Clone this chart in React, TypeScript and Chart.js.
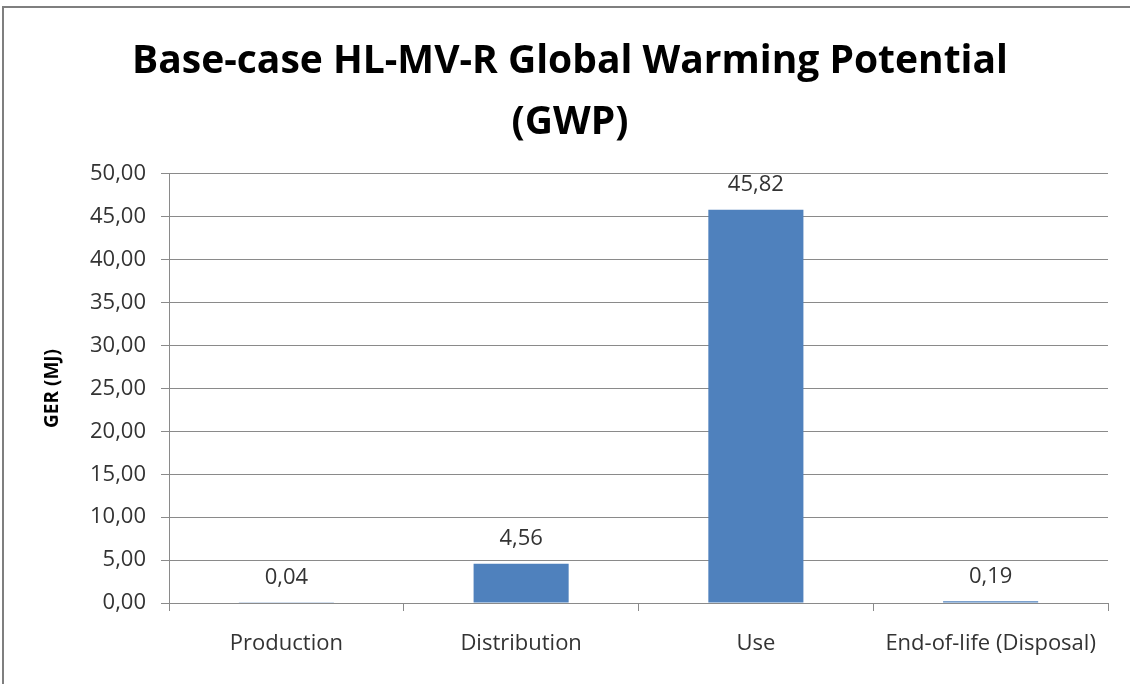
import React, { useEffect, useRef } from "react";
import { Chart, registerables } from "chart.js";

Chart.register(...registerables);

const categories = ["Production", "Distribution", "Use", "End-of-life (Disposal)"];
const values = [0.04, 4.56, 45.82, 0.19];
const titleLines = ["Base-case HL-MV-R Global Warming Potential", "(GWP)"];
const yAxisTitle = "GER (MJ)";

const FONT = "'Open Sans', sans-serif";
const fmt = (v: number) => v.toFixed(2).replace(".", ",");

const valueLabels = {
  id: "valueLabels",
  afterDatasetsDraw(chart: any) {
    const ctx = chart.ctx;
    const meta = chart.getDatasetMeta(0);
    ctx.save();
    ctx.font = `22px ${FONT}`;
    ctx.fillStyle = "#333333";
    ctx.textAlign = "center";
    ctx.textBaseline = "middle";
    meta.data.forEach((el: any, i: number) => {
      ctx.fillText(fmt(values[i]), el.x, el.y - 25);
    });
    ctx.restore();
  },
};

export default function App() {
  const ref = useRef<HTMLCanvasElement>(null);
  useEffect(() => {
    if (!ref.current) return;
    const chart = new Chart(ref.current, {
      type: "bar",
      data: {
        labels: categories,
        datasets: [
          {
            data: values,
            backgroundColor: "#4F81BD",
            borderWidth: 0,
            barPercentage: 0.405,
            categoryPercentage: 1,
          },
        ],
      },
      options: {
        animation: false,
        responsive: true,
        maintainAspectRatio: false,
        layout: { padding: { left: 16, right: 6, top: 0, bottom: 0 } },
        plugins: {
          legend: { display: false },
          tooltip: { enabled: false },
          title: {
            display: true,
            text: titleLines,
            color: "#000000",
            font: { family: FONT, size: 39, weight: "bold", lineHeight: 1.55 },
            padding: { top: 32, bottom: 21 },
          },
        },
        scales: {
          x: {
            afterFit: (s: any) => {
              s.height = 81;
            },
            grid: {
              display: true,
              drawOnChartArea: false,
              drawTicks: true,
              tickLength: 8,
              offset: true,
              color: "#8a8a8a",
            },
            border: { display: true, color: "#8a8a8a" },
            ticks: {
              color: "#333333",
              font: { family: FONT, size: 22 },
              padding: 20,
              maxRotation: 0,
            },
          },
          y: {
            min: 0,
            max: 50,
            afterFit: (s: any) => {
              s.width = 153;
            },
            ticks: {
              stepSize: 5,
              color: "#333333",
              font: { family: FONT, size: 22 },
              padding: 15,
              callback: (v: any) => fmt(Number(v)),
            },
            grid: { color: "#8a8a8a", tickLength: 8, drawTicks: true },
            border: { display: true, color: "#8a8a8a" },
            title: {
              display: true,
              text: yAxisTitle,
              color: "#000000",
              font: { family: FONT, size: 19, weight: "bold" },
              padding: { top: 25, bottom: 0 },
            },
          },
          yRight: {
            position: "right",
            display: true,
            afterFit: (s: any) => {
              s.width = 16;
            },
            grid: { drawOnChartArea: false, drawTicks: false },
            border: { display: false },
            ticks: { display: false },
          },
        },
      },
      plugins: [valueLabels],
    });
    return () => chart.destroy();
  }, []);

  return (
    <div style={{ position: "absolute", left: 0, top: 0, width: 1130, height: 684, background: "#fff" }}>
      <div
        style={{
          position: "absolute",
          left: 2,
          top: 6,
          right: 0,
          bottom: 0,
          borderTop: "2px solid #7f7f7f",
          borderLeft: "2px solid #7f7f7f",
        }}
      />
      <canvas ref={ref} />
    </div>
  );
}
